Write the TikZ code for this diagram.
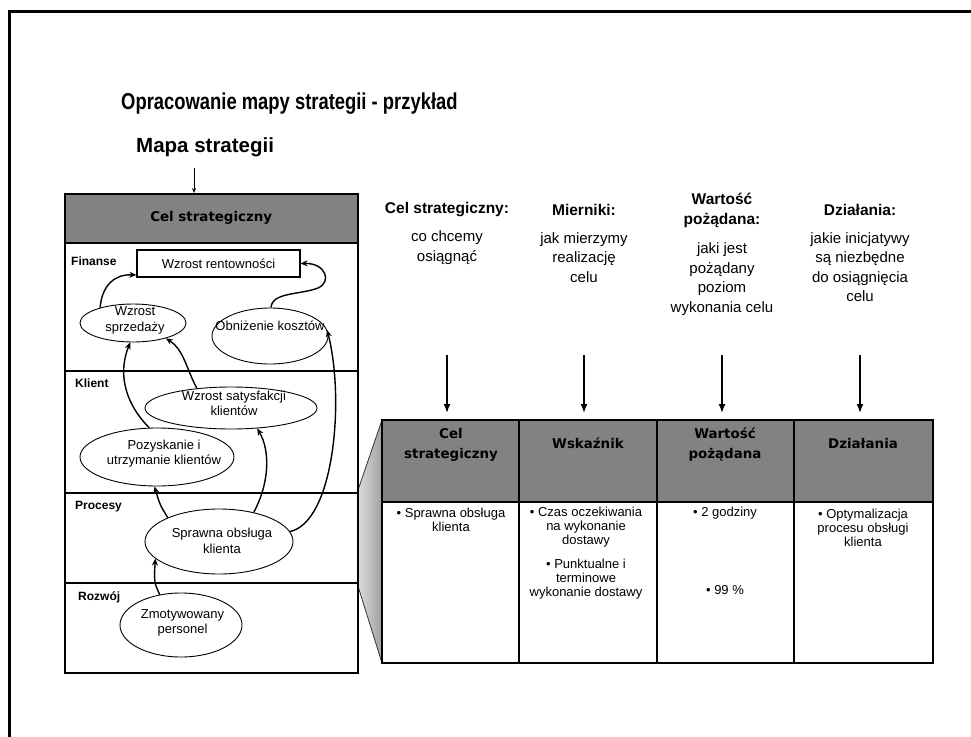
\documentclass[tikz,border=0pt]{standalone}
\usepackage{fontspec}
\setmainfont{Liberation Sans}
\newfontfamily\djv{DejaVu Sans}
\newfontfamily\narrowsans[FakeStretch=0.8]{Liberation Sans}
\usetikzlibrary{arrows.meta,shapes.geometric}
\definecolor{hdgray}{HTML}{828282}
\begin{document}
\begin{tikzpicture}[x=1pt,y=-1pt,
  flow/.style={-{Stealth[length=7pt,width=6pt]}, line width=1.4pt},
  downarrow/.style={-{Latex[length=9pt,width=7pt]}, line width=1.6pt},
  goal/.style={draw, ellipse, line width=0.9pt, inner sep=0pt},
  gtext/.style={align=center, font=\fontsize{13}{15.5}\selectfont, inner sep=0pt},
  lane/.style={font=\bfseries\fontsize{12}{14}\selectfont, anchor=west, inner sep=0pt},
  hd/.style={font=\djv\bfseries\fontsize{13.4}{20}\selectfont, align=center, inner sep=0pt},
  cell/.style={font=\fontsize{13}{14}\selectfont, align=center, inner sep=0pt},
  colhd/.style={font=\bfseries\fontsize{15.5}{19.5}\selectfont, align=center, inner sep=0pt},
  colbody/.style={font=\fontsize{15}{19.5}\selectfont, align=center, inner sep=0pt},
  grid/.style={line width=1.4pt},
]
\useasboundingbox (0,0) rectangle (971,736);
\fill[white] (0,0) rectangle (971,736);
\draw[line width=3pt] (9,745) -- (9,11) -- (980,11);

% titles
\node[anchor=west, font=\narrowsans\bfseries\fontsize{23}{27}\selectfont, inner sep=0pt] (title) at (121,104) {Opracowanie mapy strategii - przykład};
\node[anchor=west, font=\bfseries\fontsize{20.5}{24}\selectfont, inner sep=0pt] (mapa) at (136,147) {Mapa strategii};

% funnel
\shade[left color=gray!25, right color=gray!75] (357,493) -- (382,420) -- (382,663) -- (357,583) -- cycle;
\draw[line width=0.8pt, black!80] (357,493) -- (382,420);
\draw[line width=0.8pt, black!80] (357,583) -- (382,663);

% left box
\node[draw, line width=1.5pt, minimum width=293pt, minimum height=479pt, anchor=north west, inner sep=0pt] (lbox) at (64,193) {};
\node[draw, fill=hdgray, line width=1.5pt, minimum width=293pt, minimum height=49pt, anchor=north west, inner sep=0pt, font=\djv\bfseries\fontsize{13.4}{16}\selectfont] (lhead) at (64,193) {Cel strategiczny};
\draw[grid] (64,371) -- (357,371);
\draw[grid] (64,493) -- (357,493);
\draw[grid] (64,583) -- (357,583);

\coordinate (ma) at (194,168);
\draw[-{Stealth[length=5pt,width=4pt]}, line width=0.8pt] (ma) -- (ma |- lhead.north);

\node[lane] (lfin) at (71,261) {Finanse};
\node[lane] (lkli) at (75,383) {Klient};
\node[lane] (lpro) at (75,507) {Procesy};
\node[lane] (lroz) at (78,597) {Rozwój};

% goals
\node[draw, line width=1.2pt, minimum width=163pt, minimum height=27pt, inner sep=0pt, font=\fontsize{13}{15}\selectfont] (wr) at (218.5,263.5) {Wzrost rentowności};

\node[goal, minimum width=106pt, minimum height=38pt] (ws) at (133,323) {};
\node[gtext] (wsT) at (135,320.5) {Wzrost\\sprzedaży};
\node[goal, minimum width=116pt, minimum height=56pt] (ok) at (270,336) {};
\node[gtext] (okT) at (270,326) {Obniżenie kosztów};
\node[goal, minimum width=172pt, minimum height=42pt] (wsk) at (231,408) {};
\node[gtext] (wskT) at (234,403.5) {Wzrost satysfakcji\\klientów};
\node[goal, minimum width=154pt, minimum height=58pt] (pu) at (157,457) {};
\node[gtext] (puT) at (164,453.5) {Pozyskanie i\\utrzymanie klientów};
\node[goal, minimum width=148pt, minimum height=65pt] (so) at (219,541.5) {};
\node[gtext] (soT) at (222,541) {Sprawna obsługa\\klienta};
\node[goal, minimum width=122pt, minimum height=64pt] (zp) at (181,625) {};
\node[gtext] (zpT) at (182.5,623) {Zmotywowany\\personel};

% connectors
\draw[flow] (ws.155) .. controls (102,285) and (115,274) .. (wr.188);
\draw[flow] (ok.88) .. controls (272,292) and (300,295) .. (318,288) .. controls (332,282) and (326,263) .. (wr.east);
\draw[flow] (pu.105) .. controls (122,400) and (119,370) .. (ws.262);
\draw[flow] (wsk.150) .. controls (186,368) and (184,350) .. (ws.-25);
\draw[flow] (so.8) .. controls (334,522) and (345,400) .. (ok.6);
\draw[flow] (so.155) .. controls (160,505) .. (pu.265);
\draw[flow] (so.40) .. controls (270,482) and (270,450) .. (wsk.-38);
\draw[flow] (zp.125) .. controls (154,582) .. (so.195);

% table
\fill[hdgray] (382,420) rectangle (933,502);
\draw[grid] (382,420) rectangle (933,663);
\draw[grid] (382,502) -- (933,502);
\draw[grid] (519,420) -- (519,663);
\draw[grid] (657,420) -- (657,663);
\draw[grid] (794,420) -- (794,663);

\node[hd] (th1) at (451,445) {Cel\\strategiczny};
\node[hd] (th2) at (588,443) {Wskaźnik};
\node[hd] (th3) at (725,445) {Wartość\\pożądana};
\node[hd] (th4) at (863,443) {Działania};

\node[cell] (c1) at (451,520) {• Sprawna obsługa\\klienta};
\node[cell] (c2a) at (586,527) {• Czas oczekiwania\\na wykonanie\\dostawy};
\node[cell] (c2b) at (586,579) {• Punktualne i\\terminowe\\wykonanie dostawy};
\node[cell] (c3a) at (725,513) {• 2 godziny};
\node[cell] (c3b) at (725,590) {• 99 \%};
\node[cell] (c4) at (863,528) {• Optymalizacja\\procesu obsługi\\klienta};

% column headings
\node[colhd] (h1) at (447,210) {Cel strategiczny:};
\node[colbody] (b1) at (447,247.5) {co chcemy\\osiągnąć};
\node[colhd] (h2) at (584,210) {Mierniki:};
\node[colbody] (b2) at (584,257.5) {jak mierzymy\\realizację\\celu};
\node[colhd] (h3) at (722,210.5) {Wartość\\pożądana:};
\node[colbody] (b3) at (722,279) {jaki jest\\pożądany\\poziom\\wykonania celu};
\node[colhd] (h4) at (860,210) {Działania:};
\node[colbody] (b4) at (860,267) {jakie inicjatywy\\są niezbędne\\do osiągnięcia\\celu};

\coordinate (a1s) at (447,355); \coordinate (a1e) at (447,413);
\coordinate (a2s) at (584,355); \coordinate (a2e) at (584,413);
\coordinate (a3s) at (722,355); \coordinate (a3e) at (722,413);
\coordinate (a4s) at (860,355); \coordinate (a4e) at (860,413);
\draw[downarrow] (a1s) -- (a1e);
\draw[downarrow] (a2s) -- (a2e);
\draw[downarrow] (a3s) -- (a3e);
\draw[downarrow] (a4s) -- (a4e);
\end{tikzpicture}
\end{document}
